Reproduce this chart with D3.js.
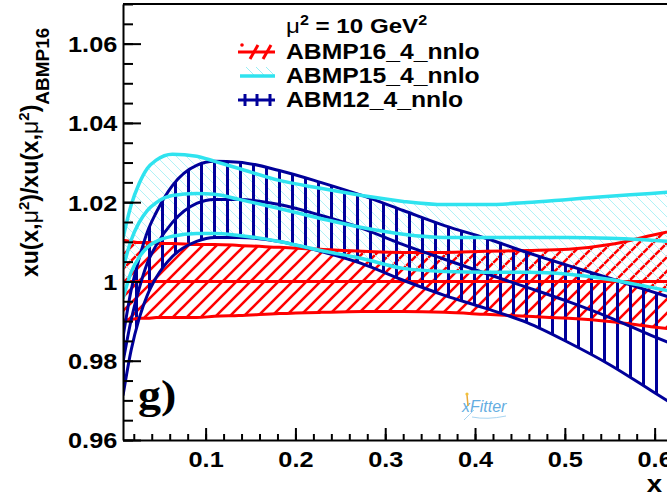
<!DOCTYPE html>
<html>
<head>
<meta charset="utf-8">
<script src="https://cdn.jsdelivr.net/npm/d3@7"></script>
<style>
  body { margin: 0; background: #fff; }
  svg { display: block; }
</style>
</head>
<body>
<script>
// x grid of the bands
var xs = [0.008, 0.017, 0.026, 0.035, 0.045, 0.063, 0.09, 0.11, 0.137, 0.182, 0.228, 0.274, 0.32, 0.366, 0.412, 0.458, 0.504, 0.55, 0.596, 0.642];

// ABMP16_4_nnlo (reference, red)
var abmp16Upper   = [1.0104, 1.0101, 1.0098, 1.0098, 1.0096, 1.0096, 1.0093, 1.0093, 1.0091, 1.0086, 1.0081, 1.0076, 1.0073, 1.0073, 1.0076, 1.0078, 1.0081, 1.0093, 1.0116, 1.0139];
var abmp16Central = [1, 1, 1, 1, 1, 1, 1, 1, 1, 1, 1, 1, 1, 1, 1, 1, 1, 1, 1, 1];
var abmp16Lower   = [0.9902, 0.9904, 0.9907, 0.9907, 0.9909, 0.9909, 0.9909, 0.9912, 0.9914, 0.9919, 0.9922, 0.9924, 0.9924, 0.9922, 0.9917, 0.9912, 0.9907, 0.9899, 0.9886, 0.9874];

// ABMP15_4_nnlo (cyan)
var abmp15Upper   = [1.0109, 1.0192, 1.0247, 1.0285, 1.0306, 1.0321, 1.0316, 1.0303, 1.0285, 1.0255, 1.0235, 1.0217, 1.0202, 1.0194, 1.0194, 1.0199, 1.0207, 1.0215, 1.0222, 1.0230];
var abmp15Central = [1.0033, 1.0104, 1.0149, 1.0179, 1.0199, 1.0217, 1.0222, 1.0220, 1.0207, 1.0184, 1.0159, 1.0136, 1.0119, 1.0111, 1.0111, 1.0111, 1.0111, 1.0109, 1.0104, 1.0098];
var abmp15Lower   = [0.9957, 1.0023, 1.0061, 1.0086, 1.0101, 1.0114, 1.0121, 1.0121, 1.0116, 1.0101, 1.0078, 1.0058, 1.0033, 1.0025, 1.0023, 1.0023, 1.0018, 1.0005, 0.9985, 0.9965];

// ABM12_4_nnlo (navy)
var abm12Upper   = [0.9859, 0.9977, 1.0058, 1.0124, 1.0174, 1.0242, 1.0293, 1.0303, 1.0301, 1.0280, 1.0250, 1.0217, 1.0179, 1.0141, 1.0109, 1.0073, 1.0040, 1.0008, 0.9975, 0.9942];
var abm12Central = [0.9796, 0.9902, 0.9982, 1.0046, 1.0091, 1.0149, 1.0197, 1.0207, 1.0207, 1.0194, 1.0167, 1.0134, 1.0093, 1.0056, 1.0020, 0.9985, 0.9949, 0.9909, 0.9864, 0.9821];
var abm12Lower   = [0.9712, 0.9826, 0.9907, 0.9965, 1.0010, 1.0063, 1.0101, 1.0111, 1.0111, 1.0101, 1.0076, 1.0045, 1.0003, 0.9965, 0.9932, 0.9896, 0.9846, 0.9790, 0.9725, 0.9659];

// axis ticks
var yMajor = [0.96, 0.98, 1.00, 1.02, 1.04, 1.06];
var xMajor = [0.1, 0.2, 0.3, 0.4, 0.5, 0.6];
var legendNames = ["ABMP16_4_nnlo", "ABMP15_4_nnlo", "ABM12_4_nnlo"];

var w = 667, h = 496;
var red = "#ff0000", cyan = "#2fe3ef", navy = "#00009a";
var font = "'Liberation Sans', Arial, sans-serif";
var sx = 1.15; // the picture is a bit wide, so text is stretched

var x = d3.scaleLinear().domain([0.008, 0.62]).range([123, 672.6]);
var y = d3.scaleLinear().domain([0.96, 1.07]).range([440, 4]);

var svg = d3.select("body").append("svg")
    .attr("width", w)
    .attr("height", h);

var defs = svg.append("defs");
defs.append("clipPath").attr("id", "plot")
  .append("rect").attr("x", x.range()[0]).attr("y", y.range()[1])
  .attr("width", x.range()[1] - x.range()[0]).attr("height", y.range()[0] - y.range()[1]);

function hatch(id, size, d, color, width) {
    defs.append("pattern").attr("id", id)
        .attr("patternUnits", "userSpaceOnUse")
        .attr("width", size).attr("height", size)
      .append("path").attr("d", d)
        .attr("stroke", color).attr("stroke-width", width).attr("fill", "none");
}
hatch("hRed", 14, "M0,14L14,0M-7,7L7,-7M7,21L21,7", red, 2.6);
hatch("hCyan", 10, "M0,0L10,10M-5,5L5,15M5,-5L15,5", "#b0f2f7", 1);
hatch("hNavy", 13, "M6.5,0V13", navy, 3);

function rows(lo, hi) {
    return xs.map(function(v, i) { return { x: v, lo: lo[i], hi: hi[i] }; });
}
var area = d3.area().curve(d3.curveMonotoneX)
    .x(function(d) { return x(d.x); })
    .y0(function(d) { return y(d.lo); })
    .y1(function(d) { return y(d.hi); });
var line = d3.line().curve(d3.curveMonotoneX)
    .x(function(d, i) { return x(xs[i]); })
    .y(function(d) { return d; });

var plot = svg.append("g").attr("clip-path", "url(#plot)");

var bands = [
    { fill: "url(#hRed)", color: red, lines: [abmp16Upper, abmp16Central, abmp16Lower], w: 3 },
    { fill: "url(#hCyan)", color: cyan, lines: [abmp15Upper, abmp15Central, abmp15Lower], w: 3.5 },
    { fill: "url(#hNavy)", color: navy, lines: [abm12Upper, abm12Central, abm12Lower], w: 3 }
];

bands.forEach(function(b) {
    plot.append("path").attr("d", area(rows(b.lines[2], b.lines[0]))).attr("fill", b.fill);
});
[0, 2, 1].forEach(function(k) {
    var b = bands[k];
    b.lines.forEach(function(vals) {
        plot.append("path")
            .attr("d", line(vals.map(function(v) { return y(v); })))
            .attr("fill", "none").attr("stroke", b.color).attr("stroke-width", b.w)
            .attr("stroke-linejoin", "round");
    });
});

// frame top
svg.append("line").attr("x1", 123).attr("x2", 672.6).attr("y1", 4).attr("y2", 4)
    .attr("stroke", "#000").attr("stroke-width", 2);

// y axis
var yMinor = d3.range(0, 23).map(function(i) { return 0.96 + i * 0.005; });
svg.append("g").attr("transform", "translate(123,0)")
    .call(d3.axisLeft(y).tickValues(yMinor).tickSize(-10).tickSizeOuter(0).tickFormat(""))
    .call(function(g) { g.select(".domain").remove(); })
    .selectAll("line").attr("stroke-width", 2);
var yAx = svg.append("g").attr("transform", "translate(123,0)")
    .call(d3.axisLeft(y).tickValues(yMajor).tickSize(-18).tickSizeOuter(0).tickPadding(5)
        .tickFormat(function(d) { return +d.toFixed(2); }));
yAx.select(".domain").attr("stroke-width", 2);
yAx.selectAll("line").attr("stroke-width", 2);
yAx.selectAll("text").attr("font-family", font).attr("font-weight", "bold")
    .attr("font-size", 22).attr("fill", "#000").attr("dy", "0.36em")
    .attr("transform", "scale(" + sx + ",1)");

// x axis
var xMinor = d3.range(1, 32).map(function(i) { return i * 0.02; });
svg.append("g").attr("transform", "translate(0,440)")
    .call(d3.axisBottom(x).tickValues(xMinor).tickSize(-6).tickSizeOuter(0).tickFormat(""))
    .call(function(g) { g.select(".domain").remove(); })
    .selectAll("line").attr("stroke-width", 2);
var xAx = svg.append("g").attr("transform", "translate(0,440)")
    .call(d3.axisBottom(x).tickValues(xMajor).tickSize(-12).tickSizeOuter(0).tickPadding(11)
        .tickFormat(function(d) { return d.toFixed(1); }));
xAx.select(".domain").attr("stroke-width", 2);
xAx.selectAll("line").attr("stroke-width", 2);
xAx.selectAll("text").attr("font-family", font).attr("font-weight", "bold")
    .attr("font-size", 22).attr("fill", "#000")
    .attr("transform", "scale(" + sx + ",1)");

function label(px, py, size, anchor, parts, extra) {
    var g = svg.append("g").attr("transform", "translate(" + px + "," + py + ")" + (extra || " scale(" + sx + ",1)"));
    var t = g.append("text").attr("font-family", font).attr("font-weight", "bold")
        .attr("font-size", size).attr("text-anchor", anchor);
    parts.forEach(function(p) {
        var s = t.append("tspan").text(p.t);
        if (p.dy) s.attr("dy", p.dy);
        if (p.size) s.attr("font-size", p.size);
        if (p.normal) s.attr("font-weight", "normal");
    });
    return t;
}

// axis titles
label(662, 492, 24, "end", [{ t: "x" }]);
label(38, 277, 23, "start", [
    { t: "xu(x," }, { t: "\u03bc", normal: true }, { t: "2", size: 15, dy: -9 }, { t: ")/xu(x,", dy: 9 },
    { t: "\u03bc", normal: true }, { t: "2", size: 15, dy: -9 }, { t: ")", dy: 9 },
    { t: "ABMP16", size: 19, dy: 11 }
], " rotate(-90)");

// legend
label(286, 33, 21, "start", [
    { t: "\u03bc", normal: true }, { t: "2", size: 14, dy: -8 }, { t: " = 10 GeV", dy: 8 }, { t: "2", size: 14, dy: -8 }
]);
var legY = [52, 76, 100];
legendNames.forEach(function(n, i) {
    label(286, legY[i] + 7, 21.5, "start", [{ t: n }]);
});
var leg = svg.append("g").attr("stroke-linecap", "butt");
leg.append("line").attr("x1", 238).attr("x2", 275).attr("y1", legY[0]).attr("y2", legY[0])
    .attr("stroke", red).attr("stroke-width", 3);
[250, 263].forEach(function(px) {
    leg.append("line").attr("x1", px).attr("y1", legY[0] + 7).attr("x2", px + 8).attr("y2", legY[0] - 7)
        .attr("stroke", red).attr("stroke-width", 3);
});
leg.append("circle").attr("cx", 242).attr("cy", legY[0] - 7).attr("r", 1.8).attr("fill", red);
[246, 256, 266].forEach(function(px) {
    leg.append("line").attr("x1", px).attr("y1", legY[1] - 9).attr("x2", px + 8).attr("y2", legY[1] - 1)
        .attr("stroke", "#9beff5").attr("stroke-width", 1);
});
leg.append("line").attr("x1", 240).attr("x2", 275).attr("y1", legY[1]).attr("y2", legY[1])
    .attr("stroke", cyan).attr("stroke-width", 3.5);
leg.append("line").attr("x1", 238).attr("x2", 275).attr("y1", legY[2]).attr("y2", legY[2])
    .attr("stroke", navy).attr("stroke-width", 3);
[245, 257, 270].forEach(function(px) {
    leg.append("line").attr("x1", px).attr("x2", px).attr("y1", legY[2] - 6).attr("y2", legY[2] + 6)
        .attr("stroke", navy).attr("stroke-width", 3);
});

// panel label
svg.append("text").attr("x", 120).attr("y", 408)
    .attr("font-family", "'Liberation Serif', 'Times New Roman', serif").attr("font-weight", "bold")
    .attr("font-size", 40).attr("transform", "scale(1.15,1)")
    .text("g)");

// xFitter mark
var logo = svg.append("g").attr("transform", "translate(462,412)");
logo.append("text").attr("font-family", font).attr("font-style", "italic")
    .attr("font-size", 16).attr("fill", "#4a9fdc").attr("opacity", 0.85).text("xFitter");
logo.append("line").attr("x1", 5).attr("x2", 6).attr("y1", -17).attr("y2", -6)
    .attr("stroke", "#e8a93a").attr("stroke-width", 1.5);
logo.append("circle").attr("cx", 5).attr("cy", -18).attr("r", 1.6).attr("fill", "#f2c23a");
logo.append("path").attr("d", "M2,8 Q8,2 12,-2 M10,5 Q25,8 44,4")
    .attr("stroke", "#a8d4f0").attr("stroke-width", 1).attr("fill", "none");
</script>
</body>
</html>
